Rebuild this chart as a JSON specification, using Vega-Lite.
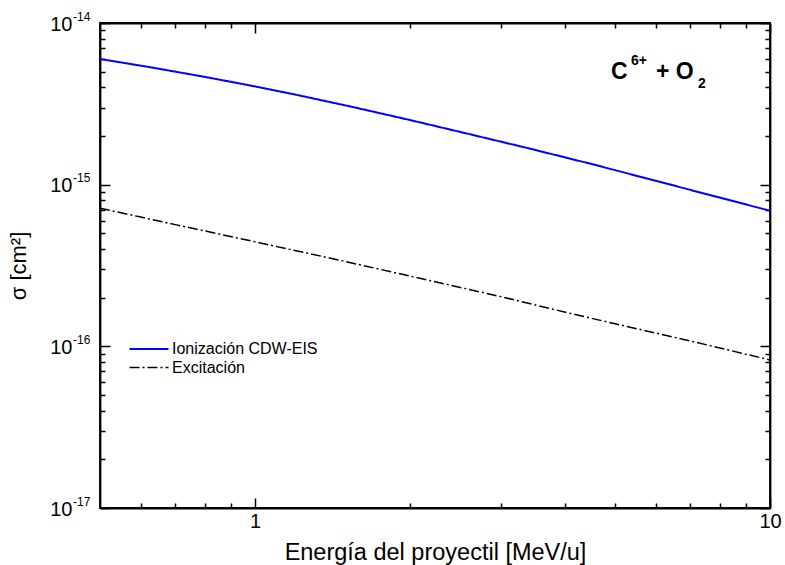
{
  "$schema": "https://vega.github.io/schema/vega-lite/v6.json",
  "width": 670,
  "height": 485,
  "autosize": "none",
  "padding": {"left": 100, "top": 23, "right": 15, "bottom": 57},
  "background": "white",
  "config": {
    "font": "Liberation Sans",
    "view": {"stroke": "black", "strokeWidth": 1.8},
    "axis": {
      "grid": false,
      "domainColor": "black",
      "domainWidth": 1.8,
      "tickColor": "black",
      "tickWidth": 1.5,
      "labelColor": "black",
      "titleColor": "black",
      "labelFont": "Liberation Sans",
      "titleFont": "Liberation Sans",
      "titleFontWeight": "normal",
      "labelFlush": false,
      "labelOverlap": false
    }
  },
  "datasets": {
    "curves": [
      {"E": 0.5, "sigma": 5.99e-15, "series": "Ionización CDW-EIS"},
      {"E": 0.625, "sigma": 5.33e-15, "series": "Ionización CDW-EIS"},
      {"E": 0.782, "sigma": 4.7e-15, "series": "Ionización CDW-EIS"},
      {"E": 0.978, "sigma": 4.11e-15, "series": "Ionización CDW-EIS"},
      {"E": 1.196, "sigma": 3.61e-15, "series": "Ionización CDW-EIS"},
      {"E": 1.529, "sigma": 3.05e-15, "series": "Ionización CDW-EIS"},
      {"E": 2.0, "sigma": 2.51e-15, "series": "Ionización CDW-EIS"},
      {"E": 2.615, "sigma": 2.05e-15, "series": "Ionización CDW-EIS"},
      {"E": 3.42, "sigma": 1.67e-15, "series": "Ionización CDW-EIS"},
      {"E": 4.47, "sigma": 1.35e-15, "series": "Ionización CDW-EIS"},
      {"E": 5.72, "sigma": 1.1e-15, "series": "Ionización CDW-EIS"},
      {"E": 7.65, "sigma": 8.62e-16, "series": "Ionización CDW-EIS"},
      {"E": 10.0, "sigma": 6.9e-16, "series": "Ionización CDW-EIS"},
      {"E": 0.5, "sigma": 7.15e-16, "series": "Excitación"},
      {"E": 0.6, "sigma": 6.3e-16, "series": "Excitación"},
      {"E": 0.7, "sigma": 5.66e-16, "series": "Excitación"},
      {"E": 0.8, "sigma": 5.17e-16, "series": "Excitación"},
      {"E": 1.0, "sigma": 4.43e-16, "series": "Excitación"},
      {"E": 1.43, "sigma": 3.46e-16, "series": "Excitación"},
      {"E": 2.0, "sigma": 2.72e-16, "series": "Excitación"},
      {"E": 3.0, "sigma": 2.03e-16, "series": "Excitación"},
      {"E": 4.09, "sigma": 1.6e-16, "series": "Excitación"},
      {"E": 5.0, "sigma": 1.38e-16, "series": "Excitación"},
      {"E": 7.0, "sigma": 1.08e-16, "series": "Excitación"},
      {"E": 10.0, "sigma": 8.24e-17, "series": "Excitación"}
    ],
    "exponents": [
      {"v": 1e-17, "e": "-17"},
      {"v": 1e-16, "e": "-16"},
      {"v": 1e-15, "e": "-15"},
      {"v": 1e-14, "e": "-14"}
    ],
    "anchor": [{}]
  },
  "layer": [
    {
      "data": {"name": "curves"},
      "mark": {"type": "line", "clip": true},
      "encoding": {
        "x": {
          "field": "E", "type": "quantitative",
          "scale": {"type": "log", "domain": [0.5, 10], "nice": false},
          "axis": {
            "orient": "bottom",
            "values": [0.6, 0.7, 0.8, 0.9, 1, 2, 3, 4, 5, 6, 7, 8, 9, 10],
            "labelExpr": "datum.value == 1 ? '1' : (datum.value == 10 ? '10' : '')",
            "tickSize": {"condition": {"test": "datum.value == 1 || datum.value == 10", "value": -10}, "value": -5},
            "labelFontSize": 20,
            "labelPadding": 13,
            "title": "Energía del proyectil [MeV/u]",
            "titleFontSize": 23.5,
            "titlePadding": 4
          }
        },
        "y": {
          "field": "sigma", "type": "quantitative",
          "scale": {"type": "log", "domain": [1e-17, 1e-14], "nice": false},
          "axis": {
            "orient": "left",
            "values": [1e-17, 2e-17, 3e-17, 4e-17, 5e-17, 6e-17, 7e-17, 8e-17, 9e-17, 1e-16, 2e-16, 3e-16, 4e-16, 5e-16, 6e-16, 7e-16, 8e-16, 9e-16, 1e-15, 2e-15, 3e-15, 4e-15, 5e-15, 6e-15, 7e-15, 8e-15, 9e-15, 1e-14],
            "labelExpr": "(datum.value == 1e-17 || datum.value == 1e-16 || datum.value == 1e-15 || datum.value == 1e-14) ? '10' : ''",
            "tickSize": {"condition": {"test": "datum.value == 1e-17 || datum.value == 1e-16 || datum.value == 1e-15 || datum.value == 1e-14", "value": -10}, "value": -5},
            "labelFontSize": 20,
            "labelPadding": 38,
            "labelOffset": 1,
            "title": "σ [cm²]",
            "titleFontSize": 22,
            "titlePadding": 19
          }
        },
        "color": {
          "field": "series", "type": "nominal",
          "scale": {"domain": ["Ionización CDW-EIS", "Excitación"], "range": ["#0000ff", "#000000"]},
          "legend": {
            "title": null, "orient": "none", "legendX": 38, "legendY": 315,
            "symbolType": "M-2,0H2", "symbolSize": 380, "symbolStrokeWidth": 2,
            "labelFontSize": 16, "labelFont": "Liberation Sans", "labelColor": "black",
            "rowPadding": -2, "labelOffset": 12
          }
        },
        "strokeDash": {
          "field": "series", "type": "nominal",
          "scale": {"domain": ["Ionización CDW-EIS", "Excitación"], "range": [[1, 0], [10, 3, 2, 3]]},
          "legend": {
            "title": null, "orient": "none", "legendX": 38, "legendY": 315,
            "symbolType": "M-2,0H2", "symbolSize": 380, "symbolStrokeWidth": 2,
            "labelFontSize": 16, "labelFont": "Liberation Sans", "labelColor": "black",
            "rowPadding": -2, "labelOffset": 12
          }
        },
        "strokeWidth": {
          "field": "series", "type": "nominal",
          "scale": {"domain": ["Ionización CDW-EIS", "Excitación"], "range": [2, 1.5]},
          "legend": null
        }
      }
    },
    {
      "data": {"name": "curves"},
      "mark": {"type": "line", "opacity": 0},
      "encoding": {
        "x": {
          "field": "E", "type": "quantitative",
          "axis": {
            "orient": "top",
            "values": [0.6, 0.7, 0.8, 0.9, 1, 2, 3, 4, 5, 6, 7, 8, 9, 10],
            "labels": false,
            "title": null,
            "tickSize": {"condition": {"test": "datum.value == 1 || datum.value == 10", "value": -10}, "value": -5}
          }
        },
        "y": {
          "field": "sigma", "type": "quantitative",
          "axis": {
            "orient": "right",
            "values": [1e-17, 2e-17, 3e-17, 4e-17, 5e-17, 6e-17, 7e-17, 8e-17, 9e-17, 1e-16, 2e-16, 3e-16, 4e-16, 5e-16, 6e-16, 7e-16, 8e-16, 9e-16, 1e-15, 2e-15, 3e-15, 4e-15, 5e-15, 6e-15, 7e-15, 8e-15, 9e-15, 1e-14],
            "labels": false,
            "title": null,
            "tickSize": {"condition": {"test": "datum.value == 1e-17 || datum.value == 1e-16 || datum.value == 1e-15 || datum.value == 1e-14", "value": -10}, "value": -5}
          }
        },
        "detail": {"field": "series", "type": "nominal"}
      }
    },
    {
      "data": {"name": "exponents"},
      "mark": {"type": "text", "align": "left", "baseline": "alphabetic", "dx": -27, "dy": -2.5, "fontSize": 12, "font": "Liberation Sans", "color": "black"},
      "encoding": {
        "x": {"datum": 0.5, "type": "quantitative", "axis": null},
        "y": {"field": "v", "type": "quantitative", "axis": null},
        "text": {"field": "e"}
      }
    },
    {
      "data": {"name": "anchor"},
      "mark": {"type": "text", "align": "left", "baseline": "alphabetic", "fontSize": 23, "fontWeight": "bold", "font": "Liberation Sans", "color": "black", "dx": 0, "dy": 0},
      "encoding": {
        "x": {"datum": 4.91, "type": "quantitative", "axis": null},
        "y": {"datum": 4.51e-15, "type": "quantitative", "axis": null},
        "text": {"value": "C"}
      }
    },
    {
      "data": {"name": "anchor"},
      "mark": {"type": "text", "align": "left", "baseline": "alphabetic", "fontSize": 14, "fontWeight": "bold", "font": "Liberation Sans", "color": "black", "dx": 20, "dy": -14},
      "encoding": {
        "x": {"datum": 4.91, "type": "quantitative", "axis": null},
        "y": {"datum": 4.51e-15, "type": "quantitative", "axis": null},
        "text": {"value": "6+"}
      }
    },
    {
      "data": {"name": "anchor"},
      "mark": {"type": "text", "align": "left", "baseline": "alphabetic", "fontSize": 23, "fontWeight": "bold", "font": "Liberation Sans", "color": "black", "dx": 45, "dy": 0},
      "encoding": {
        "x": {"datum": 4.91, "type": "quantitative", "axis": null},
        "y": {"datum": 4.51e-15, "type": "quantitative", "axis": null},
        "text": {"value": "+ O"}
      }
    },
    {
      "data": {"name": "anchor"},
      "mark": {"type": "text", "align": "left", "baseline": "alphabetic", "fontSize": 14, "fontWeight": "bold", "font": "Liberation Sans", "color": "black", "dx": 87, "dy": 9},
      "encoding": {
        "x": {"datum": 4.91, "type": "quantitative", "axis": null},
        "y": {"datum": 4.51e-15, "type": "quantitative", "axis": null},
        "text": {"value": "2"}
      }
    }
  ],
  "resolve": {"axis": {"x": "independent", "y": "independent"}}
}
